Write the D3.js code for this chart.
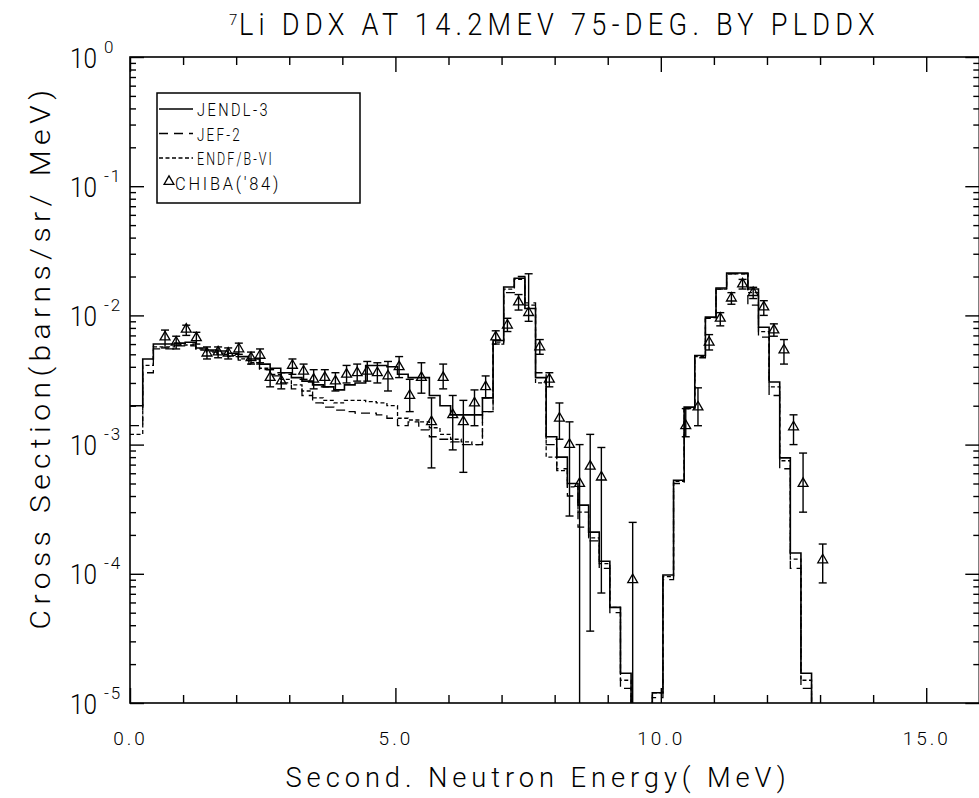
<!DOCTYPE html>
<html>
<head>
<meta charset="utf-8">
<script src="https://d3js.org/d3.v7.min.js"></script>
<style>
  body { margin: 0; background: #fff; }
  svg { font-family: Roboto, "DejaVu Sans", sans-serif; font-weight: 300; }
</style>
</head>
<body>
<script>
// histogram bins: first bin starts at 0, the others on a 0.2 MeV grid offset by 0.04
var binStart = 0.04;
var binWidth = 0.2;

// evaluated DDX (barns/sr/MeV), one value per bin, 0 = below the plot
var jendl3 = [2.0e-3, 4.6e-3, 6.0e-3, 6.0e-3, 6.1e-3, 6.2e-3, 5.6e-3, 5.4e-3, 5.3e-3, 5.1e-3,
  4.8e-3, 4.6e-3, 4.2e-3, 3.9e-3, 3.6e-3, 3.3e-3, 3.1e-3, 2.9e-3, 2.8e-3, 2.65e-3,
  2.9e-3, 3.0e-3, 4.1e-3, 4.1e-3, 4.0e-3, 3.5e-3, 3.3e-3, 3.3e-3, 2.4e-3, 2.0e-3,
  1.7e-3, 1.7e-3, 1.7e-3, 2.3e-3, 6.4e-3, 1.66e-2, 1.94e-2, 1.13e-2, 3.3e-3, 1.15e-3,
  8.0e-4, 5.0e-4, 3.4e-4, 2.1e-4, 1.25e-4, 5.5e-5, 1.7e-5, 0, 0, 1.2e-5,
  9.8e-5, 5.3e-4, 1.95e-3, 4.9e-3, 9.7e-3, 1.63e-2, 2.13e-2, 2.13e-2, 1.6e-2, 8.1e-3,
  3.05e-3, 7.9e-4, 1.45e-4, 1.7e-5, 0];

var jef2 = [1.4e-3, 3.6e-3, 5.5e-3, 5.5e-3, 5.8e-3, 5.8e-3, 5.4e-3, 5.2e-3, 5.0e-3, 4.8e-3,
  4.5e-3, 4.2e-3, 3.8e-3, 3.4e-3, 3.0e-3, 2.7e-3, 2.4e-3, 2.1e-3, 1.95e-3, 1.85e-3,
  1.8e-3, 1.75e-3, 1.75e-3, 1.7e-3, 1.6e-3, 1.4e-3, 1.5e-3, 1.3e-3, 1.15e-3, 1.1e-3,
  1.05e-3, 1.0e-3, 1.0e-3, 1.8e-3, 6.0e-3, 1.5e-2, 2.0e-2, 1.25e-2, 3.6e-3, 1.0e-3,
  6.5e-4, 4.0e-4, 2.3e-4, 1.8e-4, 1.1e-4, 5.0e-5, 1.3e-5, 0, 0, 1.1e-5,
  9.0e-5, 5.0e-4, 1.9e-3, 4.7e-3, 9.5e-3, 1.6e-2, 2.1e-2, 2.1e-2, 1.2e-2, 6.8e-3,
  2.4e-3, 6.5e-4, 1.1e-4, 1.3e-5, 0];

var endfb6 = [1.2e-3, 4.1e-3, 5.7e-3, 5.7e-3, 5.9e-3, 5.9e-3, 5.5e-3, 5.3e-3, 5.1e-3, 4.9e-3,
  4.6e-3, 4.3e-3, 3.9e-3, 3.5e-3, 3.2e-3, 2.9e-3, 2.6e-3, 2.3e-3, 2.2e-3, 2.1e-3,
  2.2e-3, 2.2e-3, 2.15e-3, 2.1e-3, 2.0e-3, 1.6e-3, 1.55e-3, 1.5e-3, 1.35e-3, 1.2e-3,
  1.1e-3, 1.05e-3, 1.0e-3, 1.8e-3, 6.2e-3, 1.6e-2, 1.9e-2, 1.2e-2, 3.0e-3, 8.0e-4,
  6.3e-4, 4.7e-4, 3.0e-4, 1.9e-4, 1.2e-4, 5.5e-5, 1.5e-5, 0, 0, 1.2e-5,
  9.5e-5, 5.2e-4, 1.9e-3, 4.8e-3, 9.6e-3, 1.6e-2, 2.1e-2, 2.1e-2, 1.5e-2, 7.5e-3,
  2.8e-3, 7.5e-4, 1.3e-4, 1.5e-5, 0];

// measured points CHIBA('84): energy, value, lower and upper end of error bar (0 = off scale)
var chibaE = [0.66, 0.87, 1.06, 1.25, 1.45, 1.66, 1.85, 2.05, 2.28, 2.45,
  2.64, 2.85, 3.06, 3.27, 3.46, 3.67, 3.87, 4.08, 4.28, 4.47,
  4.66, 4.86, 5.07, 5.27, 5.49, 5.68, 5.90, 6.08, 6.28, 6.49,
  6.70, 6.89, 7.11, 7.32, 7.51, 7.72, 7.90, 8.09, 8.28, 8.47,
  8.67, 8.88, 9.47, 10.47, 10.70, 10.91, 11.12, 11.33, 11.54, 11.74,
  11.94, 12.13, 12.32, 12.50, 12.68, 13.05];
var chibaV = [6.8e-3, 6.2e-3, 7.8e-3, 6.7e-3, 5.1e-3, 5.2e-3, 5.1e-3, 5.5e-3, 4.7e-3, 4.9e-3,
  3.3e-3, 3.1e-3, 4.1e-3, 3.7e-3, 3.2e-3, 3.3e-3, 3.1e-3, 3.5e-3, 3.6e-3, 3.7e-3,
  3.6e-3, 3.4e-3, 4.0e-3, 2.4e-3, 3.3e-3, 1.5e-3, 3.3e-3, 1.7e-3, 1.5e-3, 2.1e-3,
  2.8e-3, 6.8e-3, 8.4e-3, 1.27e-2, 1.05e-2, 5.7e-3, 3.2e-3, 1.6e-3, 1.0e-3, 5.0e-4,
  6.8e-4, 5.6e-4, 9.0e-5, 1.4e-3, 1.95e-3, 6.2e-3, 9.5e-3, 1.36e-2, 1.75e-2, 1.5e-2,
  1.16e-2, 7.7e-3, 5.4e-3, 1.37e-3, 5.0e-4, 1.28e-4];
var chibaLo = [5.6e-3, 5.5e-3, 7.0e-3, 6.0e-3, 4.6e-3, 4.7e-3, 4.6e-3, 5.0e-3, 4.2e-3, 4.3e-3,
  2.8e-3, 2.7e-3, 3.5e-3, 3.2e-3, 2.7e-3, 2.8e-3, 2.6e-3, 3.0e-3, 3.1e-3, 3.1e-3,
  3.0e-3, 2.6e-3, 3.3e-3, 1.8e-3, 2.5e-3, 6.6e-4, 2.7e-3, 9.1e-4, 6.1e-4, 1.4e-3,
  2.3e-3, 6.0e-3, 7.5e-3, 1.1e-2, 9.0e-3, 5.0e-3, 2.8e-3, 1.1e-3, 2.8e-4, 0,
  3.6e-5, 7.1e-5, 0, 1.15e-3, 1.4e-3, 5.4e-3, 8.3e-3, 1.22e-2, 1.6e-2, 1.35e-2,
  1.0e-2, 6.9e-3, 4.2e-3, 1.0e-3, 3.0e-4, 8.5e-5];
var chibaHi = [7.7e-3, 6.9e-3, 8.4e-3, 7.4e-3, 5.7e-3, 5.7e-3, 5.6e-3, 6.1e-3, 5.2e-3, 5.5e-3,
  3.8e-3, 3.6e-3, 4.6e-3, 4.2e-3, 3.8e-3, 3.8e-3, 3.6e-3, 4.1e-3, 4.2e-3, 4.4e-3,
  4.3e-3, 4.4e-3, 4.8e-3, 3.2e-3, 4.3e-3, 2.3e-3, 4.2e-3, 2.4e-3, 2.2e-3, 2.65e-3,
  3.4e-3, 7.6e-3, 9.5e-3, 1.45e-2, 2.1e-2, 6.5e-3, 3.6e-3, 2.1e-3, 1.5e-3, 1.0e-3,
  1.2e-3, 9.5e-4, 2.5e-4, 1.9e-3, 2.75e-3, 7.1e-3, 1.05e-2, 1.5e-2, 1.9e-2, 1.65e-2,
  1.3e-2, 8.6e-3, 6.5e-3, 1.7e-3, 8.6e-4, 1.7e-4];

// axis ticks and labels
var xMajor = [0, 5, 10, 15];
var xLabels = ["0.0", "5.0", "10.0", "15.0"];
var xMinor = [1, 2, 3, 4, 6, 7, 8, 9, 11, 12, 13, 14, 16];
var yDecades = [1e-5, 1e-4, 1e-3, 1e-2, 1e-1, 1];
var yExponents = ["-5", "-4", "-3", "-2", "-1", "0"];
var yMinorFactors = [2, 3, 4, 5, 6, 7, 8, 9];

var legendNames = ["JENDL-3", "JEF-2", "ENDF/B-VI", "CHIBA('84)"];

var fontStack = "Roboto, DejaVu Sans, sans-serif";

window.onload = function(){

  // plot frame
  var margin = { top: 57, right: 0, bottom: 95, left: 130 };
  var width = 849.3;
  var height = 646;

  var svg = d3.select("body")
    .append("svg")
      .attr("width", 979)
      .attr("height", 798);

  var g = svg.append("g")
      .attr("transform", "translate(" + margin.left + "," + margin.top + ")");

  var xscale = d3.scaleLinear().domain([0, 16]).range([0, width]);
  var yscale = d3.scaleLog().domain([1e-5, 1]).range([height, 0]);

  var yMinor = [];
  yDecades.slice(0, -1).forEach(function(d) {
    yMinorFactors.forEach(function(f) { yMinor.push(d * f); });
  });

  // ticks on all four sides, pointing inwards
  function tickGroup(axis, transform) {
    var a = g.append("g")
      .attr("transform", transform)
      .call(axis);
    a.select(".domain").remove();
    a.selectAll("line").attr("stroke-width", 1.4);
    return a;
  }
  tickGroup(d3.axisBottom(xscale).tickValues(xMajor).tickSize(-15).tickFormat(""), "translate(0," + height + ")");
  tickGroup(d3.axisBottom(xscale).tickValues(xMinor).tickSize(-8).tickFormat(""), "translate(0," + height + ")");
  tickGroup(d3.axisTop(xscale).tickValues(xMajor).tickSize(-15).tickFormat(""), "translate(0,0)");
  tickGroup(d3.axisTop(xscale).tickValues(xMinor).tickSize(-8).tickFormat(""), "translate(0,0)");
  var leftAxis = tickGroup(d3.axisLeft(yscale).tickValues(yDecades).tickSize(-14).tickFormat(""), "translate(0,0)");
  tickGroup(d3.axisLeft(yscale).tickValues(yMinor).tickSize(-6).tickFormat(""), "translate(0,0)");
  tickGroup(d3.axisRight(yscale).tickValues(yDecades).tickSize(-14).tickFormat(""), "translate(" + width + ",0)");
  tickGroup(d3.axisRight(yscale).tickValues(yMinor).tickSize(-6).tickFormat(""), "translate(" + width + ",0)");

  // frame lines
  g.append("rect")
    .attr("width", width)
    .attr("height", height)
    .attr("fill", "none")
    .attr("stroke", "#000")
    .attr("stroke-width", 1.6);

  // x tick labels
  var xl = g.append("g")
    .attr("transform", "translate(0," + height + ")")
    .call(d3.axisBottom(xscale).tickValues(xMajor).tickSize(0).tickPadding(29)
      .tickFormat(function(d, i) { return xLabels[i]; }));
  xl.select(".domain").remove();
  xl.selectAll("text")
    .attr("font-family", fontStack)
    .attr("font-weight", 300)
    .attr("font-size", 19)
    .attr("letter-spacing", 3)
    .attr("fill", "#000");

  // y tick labels 10^n
  leftAxis.attr("font-family", fontStack).attr("font-weight", 300);
  leftAxis.selectAll(".tick").each(function(d, i) {
    var t = d3.select(this);
    t.append("text")
      .attr("x", -60)
      .attr("y", 10)
      .attr("text-anchor", "start")
      .attr("font-size", 27)
      .attr("textLength", 27)
      .attr("lengthAdjust", "spacingAndGlyphs")
      .attr("fill", "#000")
      .text("10");
    t.append("text")
      .attr("x", -26)
      .attr("y", -5)
      .attr("text-anchor", "start")
      .attr("font-size", 17)
      .attr("letter-spacing", 2)
      .attr("fill", "#000")
      .text(yExponents[i]);
  });

  // clip for the histograms
  g.append("clipPath")
    .attr("id", "plotclip")
    .append("rect")
    .attr("width", width)
    .attr("height", height);

  function edge(i) { return i === 0 ? 0 : binStart + binWidth * i; }

  var line = d3.line()
    .x(function(d) { return xscale(d[0]); })
    .y(function(d) { return yscale(d[1]); })
    .curve(d3.curveStepAfter);

  function histo(values) {
    var pts = values.map(function(v, i) { return [edge(i), v > 0 ? v : 1e-7]; });
    pts.push([edge(values.length), 1e-7]);
    return pts;
  }

  var series = [
    { values: endfb6, dash: "4,2.5", width: 1.3 },
    { values: jef2, dash: "9,5", width: 1.3 },
    { values: jendl3, dash: null, width: 1.6 }
  ];

  var curves = g.append("g").attr("clip-path", "url(#plotclip)");
  series.forEach(function(s) {
    curves.append("path")
      .datum(histo(s.values))
      .attr("d", line)
      .attr("fill", "none")
      .attr("stroke", "#000")
      .attr("stroke-width", s.width)
      .attr("stroke-dasharray", s.dash);
  });

  // measured points with error bars
  var pts = chibaE.map(function(e, i) {
    return { e: e, v: chibaV[i], lo: chibaLo[i] > 0 ? chibaLo[i] : 1e-7, hi: chibaHi[i], loCap: chibaLo[i] > 0 };
  });

  var bars = curves.selectAll("g.point")
    .data(pts)
    .enter().append("g")
    .attr("class", "point")
    .attr("transform", function(d) { return "translate(" + xscale(d.e) + ",0)"; });

  bars.append("line")
    .attr("y1", function(d) { return yscale(d.lo); })
    .attr("y2", function(d) { return yscale(d.hi); })
    .attr("stroke", "#000")
    .attr("stroke-width", 1.4);
  bars.append("line")
    .attr("x1", -4).attr("x2", 4)
    .attr("y1", function(d) { return yscale(d.hi); })
    .attr("y2", function(d) { return yscale(d.hi); })
    .attr("stroke", "#000")
    .attr("stroke-width", 1.4);
  bars.filter(function(d) { return d.loCap; })
    .append("line")
    .attr("x1", -4).attr("x2", 4)
    .attr("y1", function(d) { return yscale(d.lo); })
    .attr("y2", function(d) { return yscale(d.lo); })
    .attr("stroke", "#000")
    .attr("stroke-width", 1.4);

  var tri = d3.symbol().type(d3.symbolTriangle).size(42);
  bars.append("path")
    .attr("d", tri)
    .attr("transform", function(d) { return "translate(0," + yscale(d.v) + ")"; })
    .attr("fill", "none")
    .attr("stroke", "#000")
    .attr("stroke-width", 1.3);

  // legend
  var lg = svg.append("g").attr("transform", "translate(157,93)");
  lg.append("rect")
    .attr("width", 203)
    .attr("height", 110)
    .attr("fill", "#fff")
    .attr("stroke", "#000")
    .attr("stroke-width", 1.5);

  var legendDash = [null, "9,6", "4,2.5"];
  var legendWidth = [73, 45, 77, 106];
  var item = lg.selectAll(".legend")
    .data(legendNames)
    .enter().append("g")
    .attr("class", "legend")
    .attr("transform", function(d, i) { return "translate(0," + (16 + i * 24.5) + ")"; });

  item.filter(function(d, i) { return i < 3; })
    .append("line")
    .attr("x1", 2).attr("x2", 36)
    .attr("stroke", "#000")
    .attr("stroke-width", 1.4)
    .attr("stroke-dasharray", function(d, i) { return legendDash[i]; });

  item.filter(function(d, i) { return i === 3; })
    .append("path")
    .attr("d", tri)
    .attr("transform", "translate(12,-1)")
    .attr("fill", "none")
    .attr("stroke", "#000")
    .attr("stroke-width", 1.3);

  item.append("text")
    .attr("x", function(d, i) { return i === 3 ? 18 : 40; })
    .attr("y", 7)
    .attr("font-size", 18)
    .attr("letter-spacing", 3)
    .attr("textLength", function(d, i) { return legendWidth[i]; })
    .attr("lengthAdjust", "spacingAndGlyphs")
    .text(function(d) { return d; });

  // title
  svg.append("text")
    .attr("x", 229)
    .attr("y", 25)
    .attr("font-size", 15)
    .text("7");
  svg.append("text")
    .attr("x", 239)
    .attr("y", 35)
    .attr("font-size", 31)
    .attr("letter-spacing", 6)
    .attr("textLength", 641)
    .attr("lengthAdjust", "spacingAndGlyphs")
    .text("Li DDX AT 14.2MEV 75-DEG. BY PLDDX");

  // axis titles
  svg.append("text")
    .attr("transform", "translate(50," + 357 + ") rotate(-90)")
    .attr("text-anchor", "middle")
    .attr("font-size", 28)
    .attr("letter-spacing", 5)
    .attr("textLength", 545)
    .attr("lengthAdjust", "spacingAndGlyphs")
    .text("Cross Section(barns/sr/ MeV)");

  svg.append("text")
    .attr("x", 538)
    .attr("y", 787)
    .attr("text-anchor", "middle")
    .attr("font-size", 28)
    .attr("letter-spacing", 5)
    .attr("textLength", 505)
    .attr("lengthAdjust", "spacingAndGlyphs")
    .text("Second. Neutron Energy( MeV)");
};
</script>
</body>
</html>
